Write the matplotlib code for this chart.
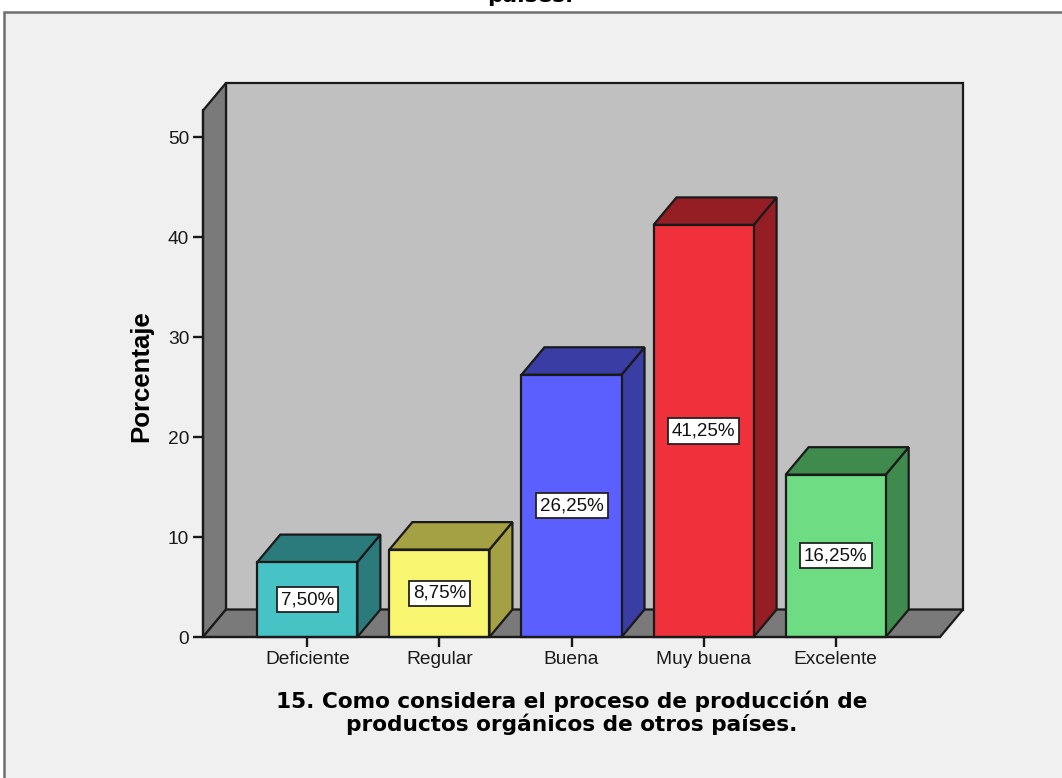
import matplotlib
matplotlib.use("Agg")
import matplotlib.pyplot as plt
from matplotlib.patches import Polygon, Rectangle

categories = ["Deficiente", "Regular", "Buena", "Muy buena", "Excelente"]
values = [7.50, 8.75, 26.25, 41.25, 16.25]
labels = ["7,50%", "8,75%", "26,25%", "41,25%", "16,25%"]
front_colors = ["#47C3C6", "#F8F670", "#5A5FFD", "#F0303A", "#6EDC82"]
dark_colors = ["#2B7B7D", "#A3A144", "#3A3DA3", "#951E24", "#3F8A4D"]
yticks = [0, 10, 20, 30, 40, 50]

W, H, DPI = 1062, 778, 100
fig = plt.figure(figsize=(W / DPI, H / DPI), dpi=DPI, facecolor="white")

# outer chart frame
frame = Rectangle((4 / W, -0.1), 1.2, (H - 12) / H + 0.1, transform=fig.transFigure,
                  facecolor="#F0F0F0", edgecolor="#6E6E6E", lw=1.8, zorder=-10)
fig.patches.append(frame)

# axes geometry (pixels)
x_left, x_right, y_bot, y_top = 203, 963, 637, 83
ax = fig.add_axes([x_left / W, (H - y_bot) / H, (x_right - x_left) / W, (y_bot - y_top) / H])
ax.set_facecolor("none")
ax.set_zorder(1)

n = len(categories)
pad = 0.79
dx = 0.174   # depth in category units
dy = 2.75    # depth in percent units
ymax_front = 52.7
x0, x1 = -pad, n - 1 + pad
ax.set_xlim(x0, x1 + dx)
ax.set_ylim(0, ymax_front + dy)

edge = "#1A1A1A"
lw = 1.6
# back wall
ax.add_patch(Polygon([(x0 + dx, dy), (x1 + dx, dy), (x1 + dx, ymax_front + dy), (x0 + dx, ymax_front + dy)],
                     closed=True, facecolor="#C0C0C0", edgecolor=edge, lw=lw, clip_on=False, zorder=1))
# left wall
ax.add_patch(Polygon([(x0, 0), (x0 + dx, dy), (x0 + dx, ymax_front + dy), (x0, ymax_front)],
                     closed=True, facecolor="#7A7A7A", edgecolor=edge, lw=lw, clip_on=False, zorder=1))
# floor
ax.add_patch(Polygon([(x0, 0), (x1, 0), (x1 + dx, dy), (x0 + dx, dy)],
                     closed=True, facecolor="#7A7A7A", edgecolor=edge, lw=lw, clip_on=False, zorder=1))

bw = 100 / 132
for i, (v, fc, dc, lab) in enumerate(zip(values, front_colors, dark_colors, labels)):
    l, r = i - bw / 2, i + bw / 2
    ax.add_patch(Polygon([(r, 0), (r + dx, dy), (r + dx, v + dy), (r, v)], closed=True,
                         facecolor=dc, edgecolor=edge, lw=lw, clip_on=False, zorder=2))
    ax.add_patch(Polygon([(l, v), (r, v), (r + dx, v + dy), (l + dx, v + dy)], closed=True,
                         facecolor=dc, edgecolor=edge, lw=lw, clip_on=False, zorder=2))
    ax.add_patch(Rectangle((l, 0), bw, v, facecolor=fc, edgecolor=edge, lw=lw, clip_on=False, zorder=3))
    ax.text(i, v / 2, lab, ha="center", va="center", fontsize=13.5, family="Liberation Sans",
            color="#111111", zorder=5,
            bbox=dict(boxstyle="square,pad=0.22", facecolor="white", edgecolor="#222222", lw=1.3))

for s in ["top", "right"]:
    ax.spines[s].set_visible(False)
ax.spines["left"].set_bounds(0, ymax_front)
ax.spines["bottom"].set_bounds(x0, x1)
for s in ["left", "bottom"]:
    ax.spines[s].set_color(edge)
    ax.spines[s].set_linewidth(lw)
    ax.spines[s].set_zorder(4)

ax.set_yticks(yticks)
ax.set_yticklabels([str(t) for t in yticks])
ax.set_xticks(range(n))
ax.set_xticklabels(categories)
ax.tick_params(axis="both", direction="out", length=7, width=1.7, color=edge,
               labelsize=13.8, labelcolor="#1A1A1A", pad=3)
for t in ax.get_xticklabels() + ax.get_yticklabels():
    t.set_family("Liberation Sans")

ax.set_ylabel("Porcentaje", fontsize=18.5, fontweight="bold", family="Liberation Sans")
ax.yaxis.set_label_coords(-0.066, 0.47)
ax.set_xlabel("15. Como considera el proceso de producción de\nproductos orgánicos de otros países.",
              fontsize=15.6, fontweight="bold", family="DejaVu Sans", linespacing=1.08)
ax.xaxis.set_label_coords(((x0 + x1) / 2 - x0) / (x1 + dx - x0), -0.096)
ax.xaxis.label.set_va("top")

# cut-off title line at top
fig.text(530 / W, 1 - 1.5 / H, "países.", ha="center", va="baseline", fontsize=15.6,
         fontweight="bold", family="DejaVu Sans")

fig.savefig("out.png", dpi=DPI, facecolor="white")
